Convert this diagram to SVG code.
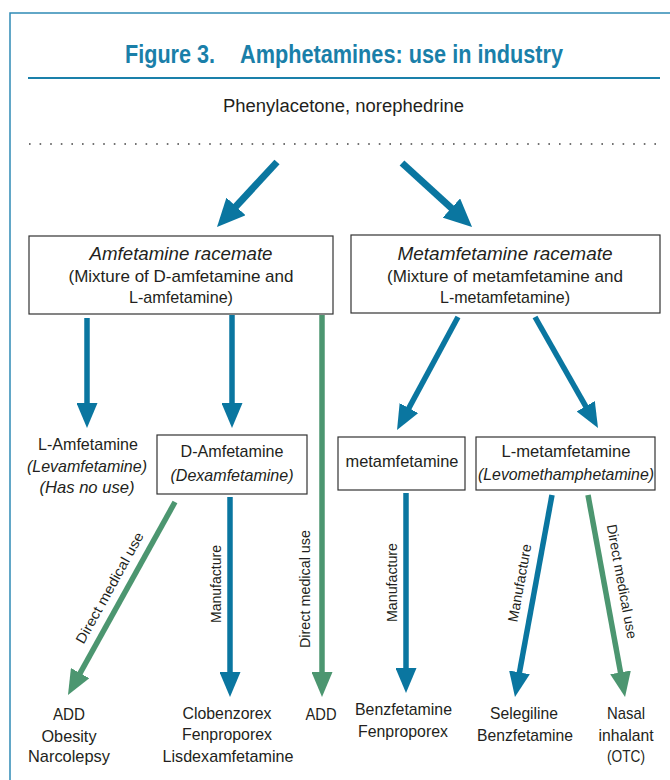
<svg xmlns="http://www.w3.org/2000/svg" width="670" height="780" viewBox="0 0 670 780">
<style>
text{font-family:"Liberation Sans",Arial,sans-serif;fill:#231f20;}
.t{font-size:17px;text-anchor:middle;}
.i{font-style:italic;}
.h{font-size:18px;font-style:italic;text-anchor:middle;}
.lab{font-size:14px;text-anchor:middle;}
.title{font-size:26px;font-weight:bold;fill:#1a7fa9;}
.box{fill:#fff;stroke:#333;stroke-width:1.2;}
.b{stroke:#0a76a0;fill:none;}
.g{stroke:#4c9670;fill:none;}
</style>
<defs>
<marker id="hb" markerUnits="userSpaceOnUse" markerWidth="28" markerHeight="26" viewBox="0 0 28 26" refX="14" refY="13" orient="auto"><path d="M0,0 L28,13 L0,26 z" fill="#0a76a0"/></marker>
<marker id="sb" markerUnits="userSpaceOnUse" markerWidth="25" markerHeight="21" viewBox="0 0 25 21" refX="12" refY="10.5" orient="auto"><path d="M0,0 L25,10.5 L0,21 z" fill="#0a76a0"/></marker>
<marker id="sg" markerUnits="userSpaceOnUse" markerWidth="25" markerHeight="21" viewBox="0 0 25 21" refX="12" refY="10.5" orient="auto"><path d="M0,0 L25,10.5 L0,21 z" fill="#4c9670"/></marker>
</defs>
<rect width="670" height="780" fill="#fff"/>
<path d="M670,13 H10 V780" fill="none" stroke="#2f8ab5" stroke-width="1.5"/>
<g id="title">
<text class="title" x="125" y="63" textLength="90" lengthAdjust="spacingAndGlyphs">Figure 3.</text>
<text class="title" x="240" y="63" textLength="323" lengthAdjust="spacingAndGlyphs">Amphetamines: use in industry</text>
<line x1="28" y1="78" x2="660" y2="78" stroke="#1a80aa" stroke-width="2"/>
</g>
<g id="source">
<text class="t" x="343.5" y="112" textLength="241" lengthAdjust="spacingAndGlyphs" style="font-size:18px">Phenylacetone, norephedrine</text>
<line x1="29" y1="144" x2="662" y2="144" stroke="#444" stroke-width="1.6" stroke-dasharray="1.6 9"/>
</g>
<g id="connectors">
<line class="b" x1="277" y1="162" x2="226.5" y2="216.7" stroke-width="7" marker-end="url(#hb)"/>
<line class="b" x1="402" y1="163" x2="461.7" y2="217.5" stroke-width="7" marker-end="url(#hb)"/>
<line class="b" x1="87" y1="318" x2="87" y2="415" stroke-width="5.5" marker-end="url(#sb)"/>
<line class="b" x1="232" y1="315" x2="232" y2="415" stroke-width="5.5" marker-end="url(#sb)"/>
<line class="g" x1="322" y1="315" x2="322" y2="684" stroke-width="5.5" marker-end="url(#sg)"/>
<line class="b" x1="458" y1="317" x2="403.2" y2="418.6" stroke-width="5.5" marker-end="url(#sb)"/>
<line class="b" x1="535" y1="317" x2="591.6" y2="416.7" stroke-width="5.5" marker-end="url(#sb)"/>
<line class="g" x1="175" y1="502" x2="74.3" y2="683.6" stroke-width="5.5" marker-end="url(#sg)"/>
<line class="b" x1="230" y1="497" x2="230" y2="684" stroke-width="5.5" marker-end="url(#sb)"/>
<line class="b" x1="406" y1="493" x2="406" y2="680" stroke-width="5.5" marker-end="url(#sb)"/>
<line class="b" x1="552" y1="495" x2="517.3" y2="684.2" stroke-width="5.5" marker-end="url(#sb)"/>
<line class="g" x1="588" y1="495" x2="622.7" y2="684.2" stroke-width="5.5" marker-end="url(#sg)"/>
<text class="lab" transform="translate(113.9,590.2) rotate(-61)" textLength="125" lengthAdjust="spacingAndGlyphs">Direct medical use</text>
<text class="lab" transform="translate(221,584) rotate(-90)" textLength="78" lengthAdjust="spacingAndGlyphs">Manufacture</text>
<text class="lab" transform="translate(310,589) rotate(-90)" textLength="118" lengthAdjust="spacingAndGlyphs">Direct medical use</text>
<text class="lab" transform="translate(397,582.5) rotate(-90)" textLength="79" lengthAdjust="spacingAndGlyphs">Manufacture</text>
<text class="lab" transform="translate(524.4,583.8) rotate(-79.6)" textLength="79" lengthAdjust="spacingAndGlyphs">Manufacture</text>
<text class="lab" transform="translate(617.1,582.3) rotate(79.6)" textLength="116" lengthAdjust="spacingAndGlyphs">Direct medical use</text>
</g>
<g id="amf-racemate">
<rect class="box" x="29" y="236" width="304" height="78"/>
<text class="h" x="181" y="260" textLength="183" lengthAdjust="spacingAndGlyphs">Amfetamine racemate</text>
<text class="t" x="181" y="282" textLength="225" lengthAdjust="spacingAndGlyphs">(Mixture of D-amfetamine and</text>
<text class="t" x="181" y="303" textLength="104" lengthAdjust="spacingAndGlyphs">L-amfetamine)</text>
</g>
<g id="metamf-racemate">
<rect class="box" x="351" y="235" width="309" height="78"/>
<text class="h" x="505" y="260" textLength="215" lengthAdjust="spacingAndGlyphs">Metamfetamine racemate</text>
<text class="t" x="505" y="282" textLength="236" lengthAdjust="spacingAndGlyphs">(Mixture of metamfetamine and</text>
<text class="t" x="505" y="303" textLength="130" lengthAdjust="spacingAndGlyphs">L-metamfetamine)</text>
</g>
<g id="l-amf">
<text class="t" x="88" y="450" textLength="100" lengthAdjust="spacingAndGlyphs">L-Amfetamine</text>
<text class="t i" x="87" y="472" textLength="120" lengthAdjust="spacingAndGlyphs">(Levamfetamine)</text>
<text class="t i" x="87" y="493" textLength="95" lengthAdjust="spacingAndGlyphs">(Has no use)</text>
</g>
<g id="d-amf">
<rect class="box" x="157" y="435" width="150" height="59"/>
<text class="t" x="232" y="457" textLength="103" lengthAdjust="spacingAndGlyphs">D-Amfetamine</text>
<text class="t i" x="232" y="481" textLength="123" lengthAdjust="spacingAndGlyphs">(Dexamfetamine)</text>
</g>
<g id="metamf">
<rect class="box" x="338" y="437" width="127" height="53"/>
<text class="t" x="402" y="467" textLength="113" lengthAdjust="spacingAndGlyphs">metamfetamine</text>
</g>
<g id="l-metamf">
<rect class="box" x="476" y="437" width="179" height="53"/>
<text class="t" x="566" y="457" textLength="129" lengthAdjust="spacingAndGlyphs">L-metamfetamine</text>
<text class="t i" x="566" y="480" textLength="176" lengthAdjust="spacingAndGlyphs">(Levomethamphetamine)</text>
</g>
<g id="out-add">
<text class="t" x="69" y="720" textLength="32" lengthAdjust="spacingAndGlyphs">ADD</text>
<text class="t" x="69" y="742" textLength="55" lengthAdjust="spacingAndGlyphs">Obesity</text>
<text class="t" x="69" y="762" textLength="82" lengthAdjust="spacingAndGlyphs">Narcolepsy</text>
</g>
<g id="out-clobenzorex">
<text class="t" x="227" y="719" textLength="89" lengthAdjust="spacingAndGlyphs">Clobenzorex</text>
<text class="t" x="227" y="740" textLength="90" lengthAdjust="spacingAndGlyphs">Fenproporex</text>
<text class="t" x="228" y="762" textLength="131" lengthAdjust="spacingAndGlyphs">Lisdexamfetamine</text>
</g>
<g id="out-add2">
<text class="t" x="321" y="720" textLength="31" lengthAdjust="spacingAndGlyphs">ADD</text>
</g>
<g id="out-benzfetamine">
<text class="t" x="403.5" y="715" textLength="97" lengthAdjust="spacingAndGlyphs">Benzfetamine</text>
<text class="t" x="403" y="737" textLength="90" lengthAdjust="spacingAndGlyphs">Fenproporex</text>
</g>
<g id="out-selegiline">
<text class="t" x="524" y="719" textLength="68" lengthAdjust="spacingAndGlyphs">Selegiline</text>
<text class="t" x="525" y="741" textLength="96" lengthAdjust="spacingAndGlyphs">Benzfetamine</text>
</g>
<g id="out-nasal">
<text class="t" x="626" y="719" textLength="38" lengthAdjust="spacingAndGlyphs">Nasal</text>
<text class="t" x="626" y="741" textLength="55" lengthAdjust="spacingAndGlyphs">inhalant</text>
<text class="t" x="626" y="762" textLength="38" lengthAdjust="spacingAndGlyphs">(OTC)</text>
</g>
</svg>
